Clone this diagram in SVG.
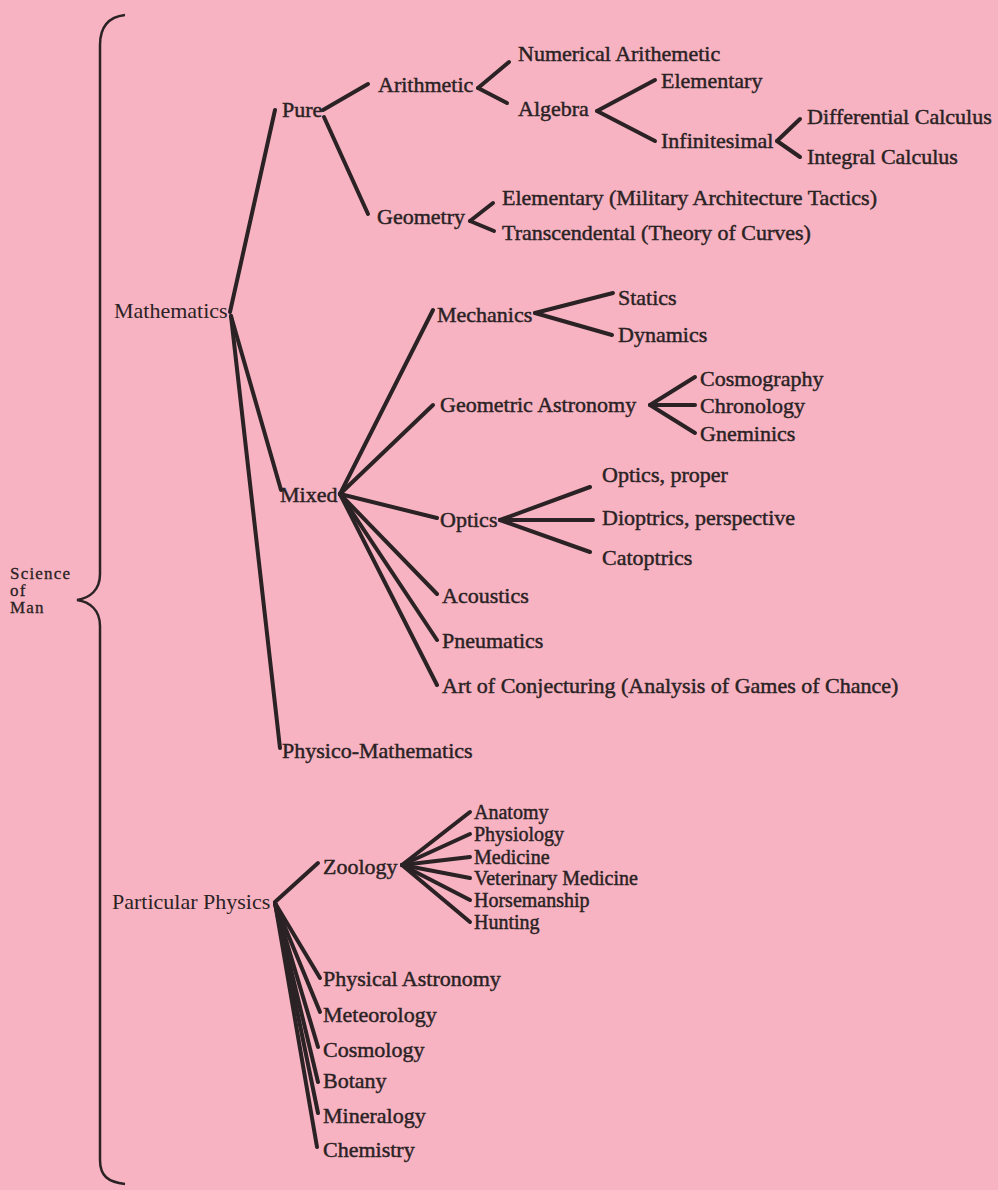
<svg xmlns="http://www.w3.org/2000/svg" width="998" height="1190" viewBox="0 0 998 1190">
<style>
text{font-family:"Liberation Serif","Times New Roman",serif;font-size:22px;fill:#2a2224}
.b{stroke:#2a2224;stroke-width:0.45px}
.s{font-size:17px;letter-spacing:1.2px;stroke:#2a2224;stroke-width:0.3px}
.f{font-size:20px}
.c line{stroke:#2a2224;stroke-width:4;stroke-linecap:round}
.brace{fill:none;stroke:#2a2224;stroke-width:2.5}
</style>
<rect width="998" height="1190" fill="#f7b3c1"/>
<g id="connectors" class="c">
<path class="brace" d="M125,15 C108,17 100,28 100,45 L100,574 C100,590 90,598 77,600 C90,602 100,610 100,626 L100,1160 C100,1176 108,1182 125,1184"/>
<line x1="230" y1="312" x2="275" y2="110"/>
<line x1="231" y1="316" x2="281" y2="490"/>
<line x1="231" y1="316" x2="280" y2="748"/>
<line x1="323" y1="110" x2="368" y2="84"/>
<line x1="324" y1="117" x2="368" y2="214"/>
<line x1="478" y1="88" x2="509" y2="62"/>
<line x1="478" y1="88" x2="507" y2="103"/>
<line x1="597" y1="111" x2="655" y2="80"/>
<line x1="597" y1="111" x2="655" y2="141"/>
<line x1="777" y1="141" x2="800" y2="119"/>
<line x1="777" y1="141" x2="800" y2="157"/>
<line x1="470" y1="221" x2="493" y2="203"/>
<line x1="470" y1="221" x2="494" y2="231"/>
<line x1="340" y1="494" x2="433" y2="310"/>
<line x1="340" y1="494" x2="433" y2="405"/>
<line x1="340" y1="494" x2="437" y2="518"/>
<line x1="340" y1="494" x2="437" y2="594"/>
<line x1="340" y1="494" x2="437" y2="640"/>
<line x1="340" y1="494" x2="437" y2="685"/>
<line x1="535" y1="313" x2="613" y2="293"/>
<line x1="535" y1="313" x2="612" y2="335"/>
<line x1="650" y1="405" x2="695" y2="377"/>
<line x1="650" y1="405" x2="695" y2="405"/>
<line x1="650" y1="405" x2="695" y2="433"/>
<line x1="500" y1="520" x2="590" y2="487"/>
<line x1="500" y1="520" x2="593" y2="520"/>
<line x1="500" y1="520" x2="590" y2="552"/>
<line x1="275" y1="902" x2="318" y2="863"/>
<line x1="275" y1="903" x2="320" y2="978"/>
<line x1="275" y1="903" x2="320" y2="1012"/>
<line x1="275" y1="903" x2="318" y2="1047"/>
<line x1="275" y1="903" x2="318" y2="1082"/>
<line x1="275" y1="903" x2="318" y2="1113"/>
<line x1="275" y1="903" x2="317" y2="1147"/>
<line x1="402" y1="865" x2="470" y2="812"/>
<line x1="402" y1="865" x2="470" y2="834"/>
<line x1="402" y1="865" x2="470" y2="857"/>
<line x1="402" y1="865" x2="470" y2="878"/>
<line x1="402" y1="865" x2="470" y2="900"/>
<line x1="402" y1="865" x2="470" y2="922"/>
</g>
<g id="n-science"><text class="s" x="10" y="579">Science</text><text class="s" x="10" y="596">of</text><text class="s" x="10" y="613">Man</text></g>
<g id="n-math"><text x="114" y="318">Mathematics</text></g>
<g id="n-pure"><text class="b" x="282" y="117">Pure</text></g>
<g id="n-arith"><text class="b" x="378" y="92">Arithmetic</text></g>
<g id="n-numarith"><text class="b" x="518" y="61">Numerical Arithemetic</text></g>
<g id="n-algebra"><text class="b" x="518" y="116">Algebra</text></g>
<g id="n-alg-elem"><text class="b" x="661" y="88">Elementary</text></g>
<g id="n-infinitesimal"><text class="b" x="661" y="148">Infinitesimal</text></g>
<g id="n-diff"><text class="b" x="807" y="124">Differential Calculus</text></g>
<g id="n-integral"><text class="b" x="807" y="164">Integral Calculus</text></g>
<g id="n-geometry"><text class="b" x="377" y="224">Geometry</text></g>
<g id="n-geo-elem"><text class="b" x="502" y="205">Elementary (Military Architecture Tactics)</text></g>
<g id="n-transc"><text class="b" x="502" y="240">Transcendental (Theory of Curves)</text></g>
<g id="n-mixed"><text class="b" x="280" y="502">Mixed</text></g>
<g id="n-mechanics"><text class="b" x="437" y="322">Mechanics</text></g>
<g id="n-statics"><text class="b" x="618" y="305">Statics</text></g>
<g id="n-dynamics"><text class="b" x="618" y="342">Dynamics</text></g>
<g id="n-geoastro"><text class="b" x="440" y="412">Geometric Astronomy</text></g>
<g id="n-cosmography"><text class="b" x="700" y="386">Cosmography</text></g>
<g id="n-chronology"><text class="b" x="700" y="413">Chronology</text></g>
<g id="n-gneminics"><text class="b" x="700" y="441">Gneminics</text></g>
<g id="n-optics"><text class="b" x="440" y="527">Optics</text></g>
<g id="n-optics-proper"><text class="b" x="602" y="482">Optics, proper</text></g>
<g id="n-dioptrics"><text class="b" x="602" y="525">Dioptrics, perspective</text></g>
<g id="n-catoptrics"><text class="b" x="602" y="565">Catoptrics</text></g>
<g id="n-acoustics"><text class="b" x="442" y="603">Acoustics</text></g>
<g id="n-pneumatics"><text class="b" x="442" y="648">Pneumatics</text></g>
<g id="n-art"><text class="b" x="442" y="693">Art of Conjecturing (Analysis of Games of Chance)</text></g>
<g id="n-physico"><text class="b" x="282" y="758">Physico-Mathematics</text></g>
<g id="n-partphys"><text x="112" y="909">Particular Physics</text></g>
<g id="n-zoology"><text class="b" x="323" y="874">Zoology</text></g>
<g id="n-anatomy"><text class="b f" x="474" y="819">Anatomy</text></g>
<g id="n-physiology"><text class="b f" x="474" y="841">Physiology</text></g>
<g id="n-medicine"><text class="b f" x="474" y="864">Medicine</text></g>
<g id="n-veterinary"><text class="b f" x="474" y="885">Veterinary Medicine</text></g>
<g id="n-horsemanship"><text class="b f" x="474" y="907">Horsemanship</text></g>
<g id="n-hunting"><text class="b f" x="474" y="929">Hunting</text></g>
<g id="n-physastro"><text class="b" x="323" y="986">Physical Astronomy</text></g>
<g id="n-meteorology"><text class="b" x="323" y="1022">Meteorology</text></g>
<g id="n-cosmology"><text class="b" x="323" y="1057">Cosmology</text></g>
<g id="n-botany"><text class="b" x="323" y="1088">Botany</text></g>
<g id="n-mineralogy"><text class="b" x="323" y="1123">Mineralogy</text></g>
<g id="n-chemistry"><text class="b" x="323" y="1157">Chemistry</text></g>
</svg>
